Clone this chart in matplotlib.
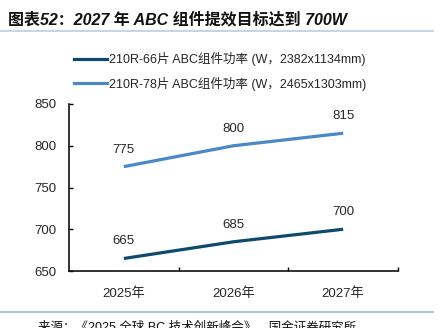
import matplotlib
matplotlib.use("Agg")
import matplotlib.pyplot as plt
from matplotlib.lines import Line2D

plt.rcParams['font.family'] = ['Liberation Sans', 'Noto Sans CJK SC', 'DejaVu Sans']

# 数据
years = ["2025年", "2026年", "2027年"]
power_66 = [665, 685, 700]
power_78 = [775, 800, 815]
label_66 = "210R-66片 ABC组件功率 (W，2382x1134mm)"
label_78 = "210R-78片 ABC组件功率 (W，2465x1303mm)"
yticks = [650, 700, 750, 800, 850]

c_dark = "#0d4a6e"
c_light = "#4b88c8"
txt = "#262626"

fig = plt.figure(figsize=(4.43, 3.28), dpi=100)
ax = fig.add_axes([69 / 443, 1 - 271 / 328, 329 / 443, 167 / 328])

x = list(range(len(years)))
ax.plot(x, power_66, color=c_dark, lw=2.3, solid_capstyle='butt')
ax.plot(x, power_78, color=c_light, lw=2.3, solid_capstyle='butt')

for xi, v in zip(x, power_66):
    ax.annotate(str(v), (xi, v), xytext=(0, 8), textcoords='offset points',
                ha='center', va='bottom', fontsize=9.5, color=txt)
for xi, v in zip(x, power_78):
    ax.annotate(str(v), (xi, v), xytext=(0, 8), textcoords='offset points',
                ha='center', va='bottom', fontsize=9.5, color=txt)

ax.set_xlim(-0.5, len(years) - 0.5)
ax.set_ylim(650, 850)
ax.set_yticks(yticks)
ax.set_xticks(x)
ax.set_xticklabels(years)
ax.set_xticks([0.5, 1.5, 2.5], minor=True)
ax.tick_params(axis='x', which='major', length=0, pad=12, labelsize=9.5, labelcolor=txt)
ax.tick_params(axis='x', which='minor', length=3, direction='in', width=1)
ax.tick_params(axis='y', length=3, direction='in', width=1, pad=9, labelsize=9.5, labelcolor=txt)
for s in ['top', 'right']:
    ax.spines[s].set_visible(False)
for s in ['left', 'bottom']:
    ax.spines[s].set_linewidth(1.2)
    ax.spines[s].set_color('#111111')

# 图例
handles = [Line2D([], [], color=c_dark, lw=2.3), Line2D([], [], color=c_light, lw=2.3)]
fig.legend(handles, [label_66, label_78], loc='upper left',
           bbox_to_anchor=(74 / 443, 1 - 52 / 328), frameon=False,
           fontsize=9, handlelength=2.6, handletextpad=0.2, labelspacing=0.85,
           labelcolor=txt, borderpad=0, borderaxespad=0)

# 标题与来源
fig.text(8 / 443, 1 - 20 / 328, "图表52：2027 年 ABC 组件提效目标达到 700W",
         fontsize=11.5, fontweight='bold', fontstyle='italic', va='center', ha='left', color='#111111')
fig.add_artist(Line2D([0, 433 / 443], [1 - 31 / 328] * 2, color='#c5d5e3', lw=1.5))
fig.add_artist(Line2D([0, 433 / 443], [1 - 312 / 328] * 2, color='#9dbcd4', lw=1.2))
fig.text(38 / 443, 1 - 321 / 328, "来源：《2025 全球 BC 技术创新峰会》，国金证券研究所",
         fontsize=9, va='top', ha='left', color='#111111')

fig.savefig("out.png", dpi=100)
